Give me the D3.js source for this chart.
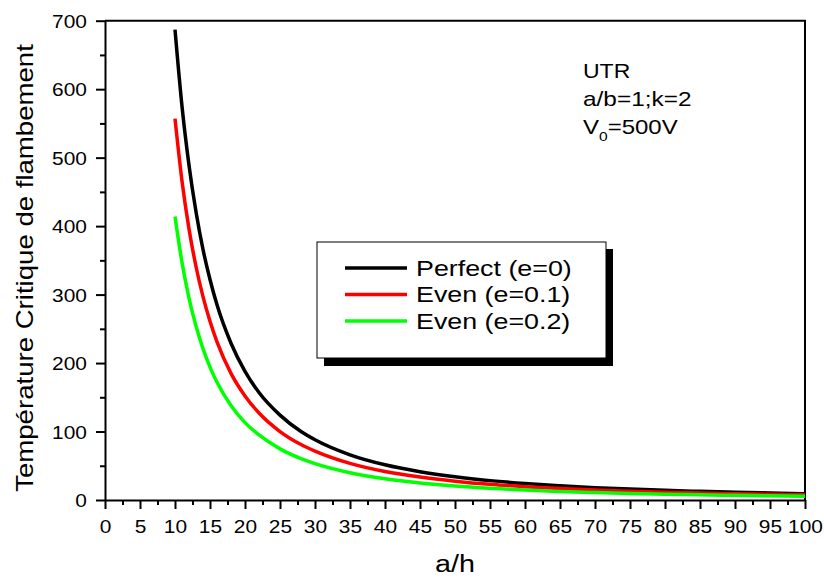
<!DOCTYPE html>
<html>
<head>
<meta charset="utf-8">
<script src="https://cdn.jsdelivr.net/npm/d3@7"></script>
<style>
  body { margin: 0; background: #fff; }
  svg text { font-family: Arial, "Liberation Sans", sans-serif; fill: #000; }
</style>
</head>
<body>
<div id="chart"></div>
<script>
var ratios = [10, 11, 12, 13, 14, 15, 16, 18, 20, 22, 25, 28, 30, 35, 40, 45, 50, 55, 60, 65, 70, 75, 80, 85, 90, 95, 100];
var perfect = [687, 575, 489, 421, 366, 322, 285, 229, 188, 157, 124, 100, 88, 66, 51.4, 41.3, 33.9, 28.3, 24.1, 20.8, 18.0, 15.9, 14.1, 12.6, 11.3, 10.2, 9.3];
var even01  = [557, 466, 396, 341, 297, 261, 231, 185, 152, 127, 100, 81, 71.4, 53.5, 41.6, 33.5, 27.5, 22.9, 19.5, 16.8, 14.6, 12.9, 11.4, 10.2, 9.2, 8.3, 7.5];
var even02  = [414, 347, 295, 254, 221, 194, 172, 138, 113, 95, 74.7, 60.4, 53.1, 39.8, 31.0, 24.9, 20.4, 17.1, 14.5, 12.5, 10.9, 9.6, 8.5, 7.6, 6.8, 6.2, 5.6];

var seriesNames  = ["Perfect (e=0)", "Even (e=0.1)", "Even (e=0.2)"];
var seriesColors = ["#000000", "#ff0000", "#00ff00"];
var seriesValues = [perfect, even01, even02];

var xTicks = d3.range(0, 101, 5);
var yTicks = [0, 100, 200, 300, 400, 500, 600, 700];

var margin = {top: 20.7, left: 105, right: 20, bottom: 79};
var width  = 700;
var height = 479.3;

var svg = d3.select("#chart").append("svg")
    .attr("width", 824).attr("height", 579);

var x = d3.scaleLinear().domain([0, 100]).range([0, width]);
var y = d3.scaleLinear().domain([0, 700]).range([height, 0]);

var graph = svg.append("g").attr("transform", "translate(" + margin.left + "," + margin.top + ")");

// frame top + right
graph.append("path")
    .attr("d", "M0,0H" + width + "V" + height)
    .attr("fill", "none").attr("stroke", "#000").attr("stroke-width", 2);

// minor ticks
var minorX = d3.axisBottom(x).tickValues(d3.range(2.5, 100, 5)).tickSize(5).tickFormat("");
var minorY = d3.axisLeft(y).tickValues(d3.range(50, 700, 100)).tickSize(5).tickFormat("");
graph.append("g").attr("transform", "translate(0," + height + ")").call(minorX).attr("class", "minor");
graph.append("g").call(minorY).attr("class", "minor");

var axisX = d3.axisBottom(x).tickValues(xTicks).tickSize(9).tickPadding(5).tickSizeOuter(0);
var axisY = d3.axisLeft(y).tickValues(yTicks).tickSize(9).tickPadding(8).tickSizeOuter(0);
var gx = graph.append("g").attr("transform", "translate(0," + height + ")").call(axisX);
var gy = graph.append("g").call(axisY);

svg.selectAll(".domain").attr("stroke", "#000").attr("stroke-width", 2);
svg.selectAll(".tick line").attr("stroke", "#000").attr("stroke-width", 2);
svg.selectAll(".minor .domain").remove();

gx.selectAll("text")
    .attr("font-size", 19).attr("font-family", "Arial, 'Liberation Sans', sans-serif")
    .attr("y", 0).attr("dy", 0)
    .attr("transform", "translate(0,33) scale(1.1,1)");
gy.selectAll("text")
    .attr("font-size", 19).attr("font-family", "Arial, 'Liberation Sans', sans-serif")
    .attr("x", 0).attr("dy", "0.35em")
    .attr("transform", "translate(-18,0) scale(1.1,1)");

// curves
var line = d3.line()
    .curve(d3.curveMonotoneX)
    .x(function(d, i) { return x(ratios[i]); })
    .y(function(d) { return y(d); });

seriesValues.forEach(function(vals, i) {
  graph.append("path")
      .datum(vals)
      .attr("d", line)
      .attr("fill", "none")
      .attr("stroke", seriesColors[i])
      .attr("stroke-width", 3.5);
});

// stretched text helper
var label = function(parent, px, py, txt, size, sx, anchor, rot) {
  var t = parent.append("text")
      .attr("transform", "translate(" + px + "," + py + ")" + (rot ? " rotate(" + rot + ")" : "") + " scale(" + sx + ",1)")
      .attr("font-size", size)
      .attr("text-anchor", anchor || "start")
      .text(txt);
  return t;
};

// axis titles
label(svg, 455, 572, "a/h", 23, 1.25, "middle");
label(svg, 33, 268, "Température Critique de flambement", 23, 1.2, "middle", -90);

// annotation
label(svg, 583, 78, "UTR", 20, 1.15, "start");
label(svg, 583, 106, "a/b=1;k=2", 20, 1.22, "start");
var vt = label(svg, 583, 134, "V", 20, 1.2, "start");
vt.append("tspan").attr("font-size", 13).attr("dy", 7).text("0");
vt.append("tspan").attr("dy", -7).text("=500V");

// legend
var leg = svg.append("g");
leg.append("rect").attr("x", 324).attr("y", 249).attr("width", 289).attr("height", 117).attr("fill", "#000");
leg.append("rect").attr("x", 317).attr("y", 242).attr("width", 289).attr("height", 116)
    .attr("fill", "#fff").attr("stroke", "#000").attr("stroke-width", 1);

seriesNames.forEach(function(name, i) {
  var ly = 268 + i * 26.5;
  leg.append("line")
      .attr("x1", 345).attr("x2", 407).attr("y1", ly).attr("y2", ly)
      .attr("stroke", seriesColors[i]).attr("stroke-width", 3.5);
  label(leg, 416, ly + 7.5, name, 22, 1.22, "start");
});
</script>
</body>
</html>
